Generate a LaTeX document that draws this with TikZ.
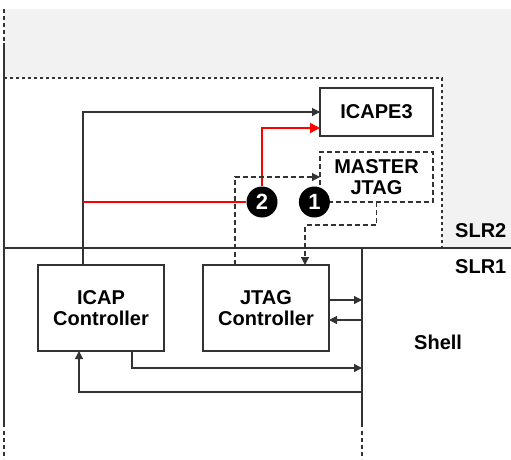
\documentclass[tikz,border=0pt]{standalone}
\usepackage{fontspec}
\setmainfont{Liberation Sans}
\usepackage{xcolor}
\usetikzlibrary{arrows.meta, positioning}

\definecolor{slrgray}{HTML}{F2F2F2}
\definecolor{linegray}{HTML}{333333}

\begin{document}
\begin{tikzpicture}[
    x=1pt, y=-1pt,
    font=\fontsize{20}{21}\selectfont\bfseries,
    box/.style={rectangle, draw=linegray, line width=1.2pt, minimum width=126pt, minimum height=86pt, align=center, outer sep=0pt},
    smallbox/.style={box, minimum width=113pt, minimum height=48pt},
    dashbox/.style={smallbox, minimum height=50pt, dash pattern=on 5pt off 3pt},
    badge/.style={circle, fill=black, text=white, minimum size=31pt, inner sep=0pt, font=\fontsize{22}{22}\selectfont\bfseries},
    wire/.style={draw=linegray, line width=1.2pt},
    arrow/.style={wire, -{Triangle[length=8pt, width=8pt]}},
    dasharrow/.style={arrow, dash pattern=on 5pt off 3pt},
    redarrow/.style={draw=red, line width=1.5pt, -{Triangle[length=10pt, width=10pt]}},
    slrtext/.style={anchor=base west, inner sep=0pt},
]

\useasboundingbox (0,0) rectangle (511,459);
\fill[slrgray] (4,9) rectangle (511,248);
\fill[white] (4,78) rectangle (442,248);
\draw[wire, dash pattern=on 3pt off 3pt] (4,78) -- (442,78) -- (442,248);
\draw[wire] (4,248) -- (511,248);
\draw[wire, dash pattern=on 4pt off 3pt] (4,9) -- (4,42);
\draw[wire] (4,43) -- (4,427);
\draw[wire, dash pattern=on 4pt off 3pt] (4,431) -- (4,459);
\draw[wire] (362,248) -- (362,427);
\draw[wire, dash pattern=on 4pt off 3pt] (362,431) -- (362,459);

\node[box] (icapctl) at (101,308) {ICAP\\Controller};
\node[box, right=39pt of icapctl] (jtagctl) {JTAG\\Controller};
\node[smallbox] (icape) at (376.5,112) {ICAPE3};
\node[dashbox, below=16pt of icape] (master) {MASTER\\JTAG};
\node[badge] (c2) at (262,202) {2};
\node[badge, right=21pt of c2] (c1) {1};
\node[slrtext] (slr2) at (455,237) {SLR2};
\node[slrtext] (slr1) at (455,273) {SLR1};
\node[slrtext] (shell) at (414,349) {Shell};

\coordinate (icapout) at ([xshift=-18pt]icapctl.north);
\coordinate (tap) at (icapout |- c2);
\coordinate (jtagout) at ([yshift=8pt]jtagctl.east);
\coordinate (jtagin) at ([yshift=-12pt]jtagctl.east);
\coordinate (busin) at (362,368);
\coordinate (busout) at (362,392);

\draw[arrow] (icapout) |- (icape.west);
\draw[red, line width=1.5pt] (tap) -- (c2.west);
\draw[redarrow] (c2.north) |- ([yshift=-16pt]icape.west);
\draw[dasharrow] ([xshift=-31pt]jtagctl.north) |- (master.west);
\draw[dasharrow] (master.south) -- ++(0,23) -| ([xshift=39pt]jtagctl.north);
\draw[arrow] (jtagout) -- (jtagout -| busin);
\draw[arrow] (jtagin -| busin) -- (jtagin);
\draw[arrow] ([xshift=31pt]icapctl.south) |- (busin);
\draw[arrow] (busout) -| ([xshift=-22pt]icapctl.south);

\end{tikzpicture}
\end{document}
